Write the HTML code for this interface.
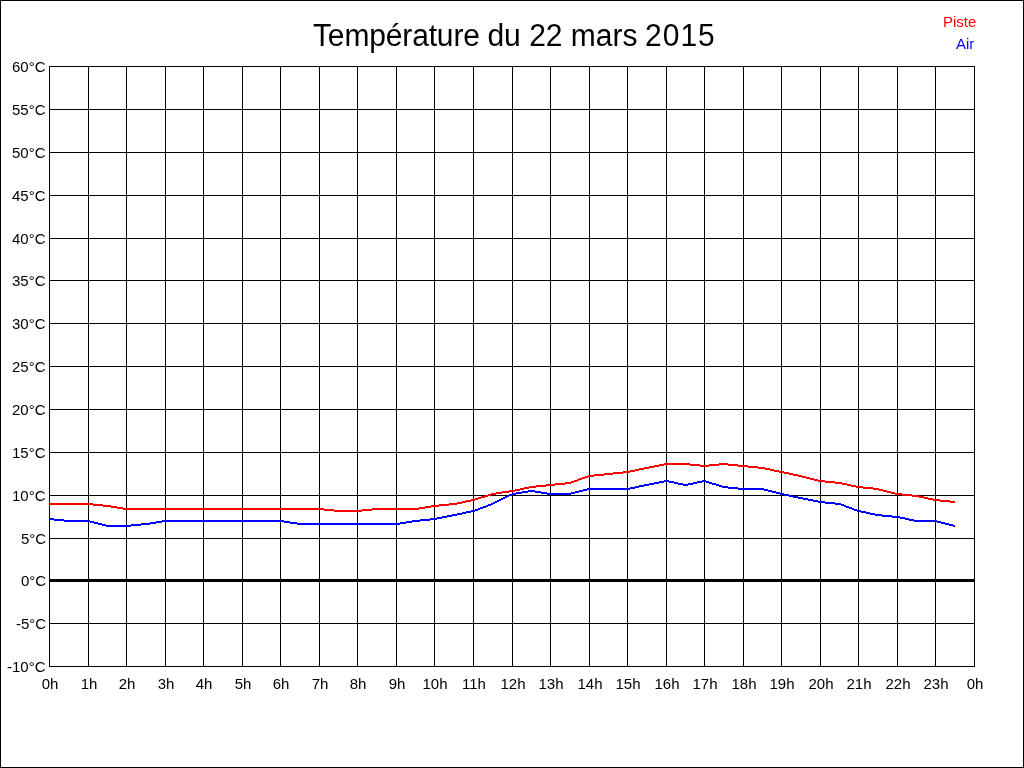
<!DOCTYPE html>
<html><head><meta charset="utf-8"><title>Température du 22 mars 2015</title>
<style>
html,body{margin:0;padding:0;background:#fff;}
body{width:1024px;height:768px;position:relative;overflow:hidden;font-family:"Liberation Sans",sans-serif;color:#000;}
.yl,.xl,#title,.lg{will-change:transform;}
#frame{position:absolute;left:0;top:0;width:1022px;height:766px;border:1px solid #000;}
svg{position:absolute;left:0;top:0;}
.yl{position:absolute;right:978px;font-size:15px;line-height:16px;height:16px;text-align:right;white-space:nowrap;}
.xl{position:absolute;width:40px;font-size:15px;line-height:16px;height:16px;text-align:center;white-space:nowrap;}
#title{position:absolute;left:312.5px;white-space:nowrap;font-size:30px;line-height:34px;height:34px;transform:scaleY(1.055);transform-origin:50% 50%;}
.lg{position:absolute;right:49px;font-size:15px;line-height:16px;height:16px;text-align:right;}
</style></head><body>
<div id="frame"></div>

<svg width="1024" height="768" viewBox="0 0 1024 768" shape-rendering="crispEdges">
<path fill="#000" d="M49 66h1v601h-1zM88 66h1v601h-1zM126 66h1v601h-1zM165 66h1v601h-1zM203 66h1v601h-1zM242 66h1v601h-1zM280 66h1v601h-1zM319 66h1v601h-1zM357 66h1v601h-1zM396 66h1v601h-1zM434 66h1v601h-1zM473 66h1v601h-1zM512 66h1v601h-1zM550 66h1v601h-1zM589 66h1v601h-1zM627 66h1v601h-1zM666 66h1v601h-1zM704 66h1v601h-1zM743 66h1v601h-1zM781 66h1v601h-1zM820 66h1v601h-1zM858 66h1v601h-1zM897 66h1v601h-1zM935 66h1v601h-1zM974 66h1v601h-1zM49 66h926v1h-926zM49 109h926v1h-926zM49 152h926v1h-926zM49 195h926v1h-926zM49 238h926v1h-926zM49 280h926v1h-926zM49 323h926v1h-926zM49 366h926v1h-926zM49 409h926v1h-926zM49 452h926v1h-926zM49 495h926v1h-926zM49 538h926v1h-926zM49 623h926v1h-926zM49 666h926v1h-926zM49 579h926v3h-926z"/>
<path fill="#0000ff" d="M49 518h5v2h-5zM54 519h10v2h-10zM64 520h26v2h-26zM90 521h4v2h-4zM94 522h4v2h-4zM98 523h4v2h-4zM102 524h4v2h-4zM106 525h25v2h-25zM131 524h10v2h-10zM141 523h9v2h-9zM150 522h6v2h-6zM156 521h6v2h-6zM162 520h122v2h-122zM284 521h6v2h-6zM290 522h7v2h-7zM297 523h103v2h-103zM400 522h6v2h-6zM406 521h6v2h-6zM412 520h8v2h-8zM420 519h10v2h-10zM430 518h7v2h-7zM437 517h5v2h-5zM442 516h5v2h-5zM447 515h5v2h-5zM452 514h5v2h-5zM457 513h5v2h-5zM462 512h4v2h-4zM466 511h5v2h-5zM471 510h4v2h-4zM475 509h3v2h-3zM478 508h2v2h-2zM480 507h3v2h-3zM483 506h3v2h-3zM486 505h2v2h-2zM488 504h3v2h-3zM491 503h2v2h-2zM493 502h2v2h-2zM495 501h2v2h-2zM497 500h2v2h-2zM499 499h2v2h-2zM501 498h2v2h-2zM503 497h2v2h-2zM505 496h2v2h-2zM507 495h2v2h-2zM509 494h3v2h-3zM512 493h4v2h-4zM516 492h6v2h-6zM522 491h6v2h-6zM528 490h7v2h-7zM535 491h6v2h-6zM541 492h6v2h-6zM547 493h24v2h-24zM571 492h4v2h-4zM575 491h4v2h-4zM579 490h4v2h-4zM583 489h4v2h-4zM587 488h43v2h-43zM630 487h5v2h-5zM635 486h4v2h-4zM639 485h5v2h-5zM644 484h5v2h-5zM649 483h5v2h-5zM654 482h5v2h-5zM659 481h5v2h-5zM664 480h5v2h-5zM669 481h5v2h-5zM674 482h4v2h-4zM678 483h5v2h-5zM683 484h5v2h-5zM688 483h5v2h-5zM693 482h4v2h-4zM697 481h5v2h-5zM702 480h4v2h-4zM706 481h3v2h-3zM709 482h3v2h-3zM712 483h4v2h-4zM716 484h3v2h-3zM719 485h3v2h-3zM722 486h6v2h-6zM728 487h10v2h-10zM738 488h26v2h-26zM764 489h4v2h-4zM768 490h4v2h-4zM772 491h4v2h-4zM776 492h4v2h-4zM780 493h4v2h-4zM784 494h5v2h-5zM789 495h4v2h-4zM793 496h5v2h-5zM798 497h5v2h-5zM803 498h5v2h-5zM808 499h5v2h-5zM813 500h5v2h-5zM818 501h7v2h-7zM825 502h10v2h-10zM835 503h6v2h-6zM841 504h3v2h-3zM844 505h2v2h-2zM846 506h3v2h-3zM849 507h3v2h-3zM852 508h2v2h-2zM854 509h3v2h-3zM857 510h4v2h-4zM861 511h5v2h-5zM866 512h4v2h-4zM870 513h5v2h-5zM875 514h7v2h-7zM882 515h10v2h-10zM892 516h8v2h-8zM900 517h5v2h-5zM905 518h4v2h-4zM909 519h5v2h-5zM914 520h23v2h-23zM937 521h4v2h-4zM941 522h4v2h-4zM945 523h4v2h-4zM949 524h4v2h-4zM953 525h2v2h-2z"/>
<path fill="#ff0000" d="M49 503h44v2h-44zM93 504h10v2h-10zM103 505h8v2h-8zM111 506h6v2h-6zM117 507h6v2h-6zM123 508h201v2h-201zM324 509h10v2h-10zM334 510h28v2h-28zM362 509h10v2h-10zM372 508h47v2h-47zM419 507h6v2h-6zM425 506h6v2h-6zM431 505h8v2h-8zM439 504h10v2h-10zM449 503h8v2h-8zM457 502h5v2h-5zM462 501h4v2h-4zM466 500h5v2h-5zM471 499h4v2h-4zM475 498h3v2h-3zM478 497h3v2h-3zM481 496h4v2h-4zM485 495h3v2h-3zM488 494h3v2h-3zM491 493h5v2h-5zM496 492h6v2h-6zM502 491h7v2h-7zM509 490h6v2h-6zM515 489h5v2h-5zM520 488h4v2h-4zM524 487h5v2h-5zM529 486h7v2h-7zM536 485h10v2h-10zM546 484h9v2h-9zM555 483h10v2h-10zM565 482h6v2h-6zM571 481h3v2h-3zM574 480h3v2h-3zM577 479h2v2h-2zM579 478h3v2h-3zM582 477h3v2h-3zM585 476h3v2h-3zM588 475h6v2h-6zM594 474h10v2h-10zM604 473h9v2h-9zM613 472h10v2h-10zM623 471h7v2h-7zM630 470h5v2h-5zM635 469h4v2h-4zM639 468h5v2h-5zM644 467h5v2h-5zM649 466h5v2h-5zM654 465h5v2h-5zM659 464h5v2h-5zM664 463h26v2h-26zM690 464h10v2h-10zM700 465h9v2h-9zM709 464h10v2h-10zM719 463h9v2h-9zM728 464h10v2h-10zM738 465h10v2h-10zM748 466h10v2h-10zM758 467h7v2h-7zM765 468h5v2h-5zM770 469h4v2h-4zM774 470h5v2h-5zM779 471h5v2h-5zM784 472h5v2h-5zM789 473h4v2h-4zM793 474h5v2h-5zM798 475h4v2h-4zM802 476h4v2h-4zM806 477h4v2h-4zM810 478h4v2h-4zM814 479h4v2h-4zM818 480h7v2h-7zM825 481h10v2h-10zM835 482h7v2h-7zM842 483h5v2h-5zM847 484h4v2h-4zM851 485h5v2h-5zM856 486h7v2h-7zM863 487h10v2h-10zM873 488h6v2h-6zM879 489h4v2h-4zM883 490h4v2h-4zM887 491h4v2h-4zM891 492h4v2h-4zM895 493h7v2h-7zM902 494h10v2h-10zM912 495h7v2h-7zM919 496h5v2h-5zM924 497h4v2h-4zM928 498h5v2h-5zM933 499h7v2h-7zM940 500h10v2h-10zM950 501h5v2h-5z"/>
</svg>
<div id="title" style="top:18px"><span style="letter-spacing:-0.15px">Température</span> <span style="position:relative;left:-0.7px">du 22 mars</span> <span style="position:relative;left:-1.5px;letter-spacing:1px">2015</span></div>
<div class="lg" style="top:14px;right:47.5px;color:#ff0000">Piste</div>
<div class="lg" style="top:36px;right:50px;color:#0000ff">Air</div>
<div class="yl" style="top:59px">60°C</div>
<div class="yl" style="top:102px">55°C</div>
<div class="yl" style="top:145px">50°C</div>
<div class="yl" style="top:188px">45°C</div>
<div class="yl" style="top:231px">40°C</div>
<div class="yl" style="top:273px">35°C</div>
<div class="yl" style="top:316px">30°C</div>
<div class="yl" style="top:359px">25°C</div>
<div class="yl" style="top:402px">20°C</div>
<div class="yl" style="top:445px">15°C</div>
<div class="yl" style="top:488px">10°C</div>
<div class="yl" style="top:531px">5°C</div>
<div class="yl" style="top:573px">0°C</div>
<div class="yl" style="top:616px">-5°C</div>
<div class="yl" style="top:659px">-10°C</div>
<div class="xl" style="left:30px;top:676px">0h</div>
<div class="xl" style="left:69px;top:676px">1h</div>
<div class="xl" style="left:107px;top:676px">2h</div>
<div class="xl" style="left:146px;top:676px">3h</div>
<div class="xl" style="left:184px;top:676px">4h</div>
<div class="xl" style="left:223px;top:676px">5h</div>
<div class="xl" style="left:261px;top:676px">6h</div>
<div class="xl" style="left:300px;top:676px">7h</div>
<div class="xl" style="left:338px;top:676px">8h</div>
<div class="xl" style="left:377px;top:676px">9h</div>
<div class="xl" style="left:415px;top:676px">10h</div>
<div class="xl" style="left:454px;top:676px">11h</div>
<div class="xl" style="left:493px;top:676px">12h</div>
<div class="xl" style="left:531px;top:676px">13h</div>
<div class="xl" style="left:570px;top:676px">14h</div>
<div class="xl" style="left:608px;top:676px">15h</div>
<div class="xl" style="left:647px;top:676px">16h</div>
<div class="xl" style="left:685px;top:676px">17h</div>
<div class="xl" style="left:724px;top:676px">18h</div>
<div class="xl" style="left:762px;top:676px">19h</div>
<div class="xl" style="left:801px;top:676px">20h</div>
<div class="xl" style="left:839px;top:676px">21h</div>
<div class="xl" style="left:878px;top:676px">22h</div>
<div class="xl" style="left:916px;top:676px">23h</div>
<div class="xl" style="left:955px;top:676px">0h</div>
</body></html>
